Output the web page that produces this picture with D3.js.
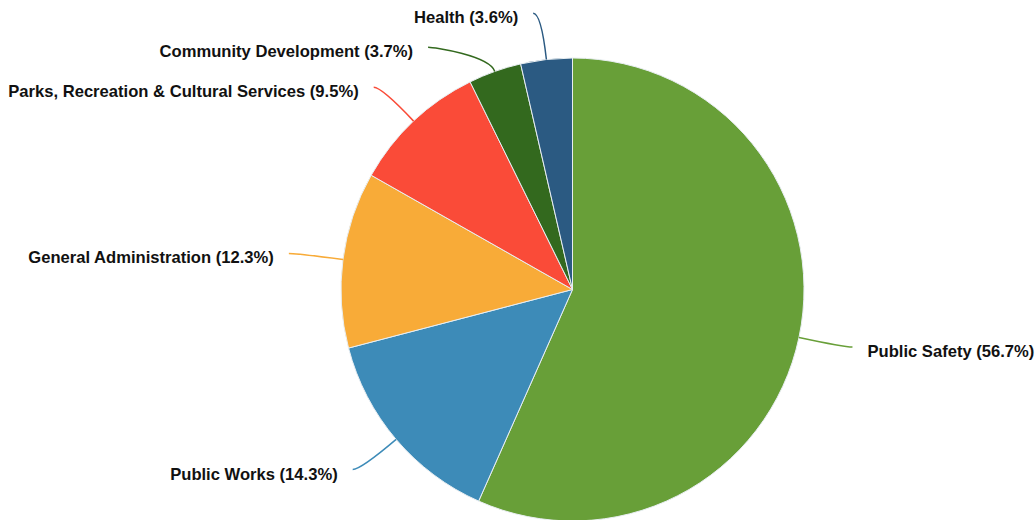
<!DOCTYPE html>
<html>
<head>
<meta charset="utf-8">
<script src="https://cdn.jsdelivr.net/npm/d3@7"></script>
<style>
  body { margin: 0; background: #fff; }
  svg text { font-family: "Liberation Sans", Arial, Helvetica, sans-serif; font-weight: bold; font-size: 16.6px; fill: #111; }
</style>
</head>
<body>
<svg id="chart" width="1036" height="520"></svg>
<script>
// budget shares, clockwise from 12 o'clock
var categories = ["Public Safety", "Public Works", "General Administration",
  "Parks, Recreation & Cultural Services", "Community Development", "Health"];
var values = [56.7, 14.3, 12.3, 9.5, 3.7, 3.6];
var colors = ["#689f38", "#3d8bb8", "#f8ab38", "#fa4b38", "#33691e", "#2b5a82"];

var width = 1036, height = 520;
var cx = 572.5, cy = 289.5, radius = 231.5;
var bendR = 278;   // where the leader turns horizontal
var tail = 8;      // horizontal run after the bend

var svg = d3.select("#chart");

var data = categories.map(function(c, i) { return {name: c, value: values[i], color: colors[i]}; });

var pie = d3.pie()
  .sort(null)
  .value(function(d) { return d.value; });

var arc = d3.arc()
  .innerRadius(0)
  .outerRadius(radius);

var arcs = pie(data);

var g = svg.append("g")
  .attr("transform", "translate(" + cx + "," + cy + ")");

g.selectAll("path.slice")
  .data(arcs)
  .enter().append("path")
  .attr("class", "slice")
  .attr("d", arc)
  .attr("fill", function(d) { return d.data.color; })
  .attr("stroke", "#e8eef2")
  .attr("stroke-width", 1);

arcs.forEach(function(d) {
  var a = (d.startAngle + d.endAngle) / 2;
  d.ux = Math.sin(a);
  d.uy = -Math.cos(a);
  d.sx = radius * d.ux;
  d.sy = radius * d.uy;
  d.qx = bendR * d.ux;
  d.qy = bendR * d.uy;
  d.right = d.ux > 0;
});

// push labels apart vertically, sliding bends along the circle
[true, false].forEach(function(side) {
  var group = arcs.filter(function(d) { return d.right === side; })
    .sort(function(a, b) { return a.qy - b.qy; });
  var prev = -Infinity;
  group.forEach(function(d) {
    var y = Math.max(d.qy, 11 - cy, prev + 34);
    if (y !== d.qy) {
      d.qy = y;
      var dx = Math.sqrt(Math.max(0, bendR * bendR - y * y));
      d.qx = d.right ? dx : -dx;
    }
    prev = d.qy;
  });
});

arcs.forEach(function(d) {
  var dir = d.right ? 1 : -1;
  d.ex = d.qx + dir * tail;
  d.ey = d.qy;
  var tY = Math.abs(d.uy) > 0.05 ? (d.ey - d.sy) / d.uy : bendR - radius;
  var k = Math.max(4, Math.min(tY, bendR - radius)) * 2 / 3;
  d.c1x = d.sx + d.ux * k;
  d.c1y = d.sy + d.uy * k;
  d.c2x = d.ex + (d.qx - d.ex) * 2 / 3;
  d.c2y = d.ey;
});

g.selectAll("path.leader")
  .data(arcs)
  .enter().append("path")
  .attr("class", "leader")
  .attr("d", function(d) {
    return "M" + d.sx + "," + d.sy + "C" + d.c1x + "," + d.c1y + " " +
      d.c2x + "," + d.c2y + " " + d.ex + "," + d.ey;
  })
  .attr("fill", "none")
  .attr("stroke", function(d) { return d.data.color; })
  .attr("stroke-width", 1.5);

g.selectAll("text.label")
  .data(arcs)
  .enter().append("text")
  .attr("class", "label")
  .attr("x", function(d) { return d.right ? d.ex + 15 : d.ex - 15; })
  .attr("y", function(d) { return d.ey + 10; })
  .attr("text-anchor", function(d) { return d.right ? "start" : "end"; })
  .text(function(d) { return d.data.name + " (" + d.data.value + "%)"; });
</script>
</body>
</html>
